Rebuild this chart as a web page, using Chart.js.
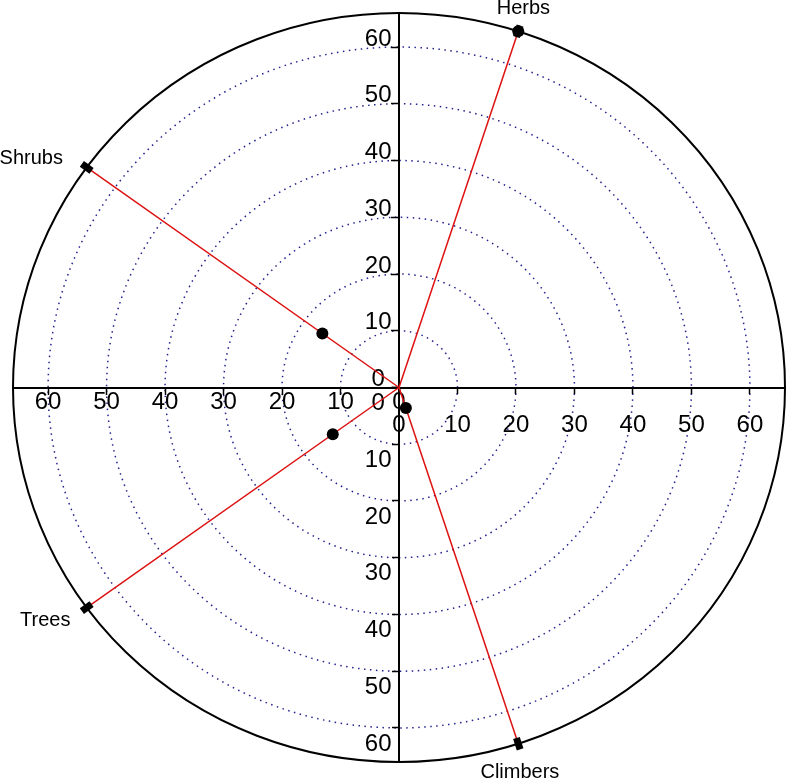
<!DOCTYPE html>
<html>
<head>
<meta charset="utf-8">
<script src="https://cdn.jsdelivr.net/npm/chart.js@4/dist/chart.umd.min.js"></script>
<style>
html,body{margin:0;padding:0;background:#fff;overflow:hidden;}
#c{display:block;}
</style>
</head>
<body>
<canvas id="c" width="787" height="782"></canvas>
<script>
// ---- data ----
const categories = ['Herbs', 'Shrubs', 'Trees', 'Climbers'];
const values = [66, 16.2, 14, 3.8];
const radialMax = 66;
const gridValues = [10, 20, 30, 40, 50, 60];
const tickValues = [0, 10, 20, 30, 40, 50, 60];

// ---- helpers ----
const angleStep = 360 / (categories.length + 1);
const angles = categories.map((_, i) => (i + 1) * angleStep);
const toRad = d => d * Math.PI / 180;
const polar = (r, deg) => ({ x: r * Math.cos(toRad(deg)), y: r * Math.sin(toRad(deg)) });

const FONT = '"Liberation Sans", Arial, Helvetica, sans-serif';
const tickFont = { family: FONT, size: 24 };
const fmtV = v => (v === 0 ? '0 ' : String(Math.abs(v)));
const fmtH = v => String(Math.abs(v));

// label placement style (pixels)
const labelRadius = 70.5;
const labelNudge = [[-3, 1], [-2.5, 6.5], [5, -2.5], [-6.5, 5]];

const spokeSets = categories.map((c, i) => ({
  label: c + ' spoke',
  data: [{ x: 0, y: 0 }, polar(radialMax, angles[i])],
  showLine: true,
  borderColor: '#dd1111',
  borderWidth: 1.5,
  pointRadius: 0,
  clip: false,
  order: 3
}));

const markerSet = {
  label: 'ends',
  data: angles.map(a => polar(radialMax, a)),
  pointStyle: 'line',
  pointRotation: angles.map(a => -a),
  pointRadius: 6,
  pointBorderWidth: 7,
  pointBorderColor: '#000',
  pointBackgroundColor: '#000',
  showLine: false,
  clip: false,
  order: 2
};

const valueSet = {
  label: 'values',
  data: values.map((v, i) => polar(v, angles[i])),
  pointStyle: 'circle',
  pointRadius: 6,
  pointBorderWidth: 0,
  pointBackgroundColor: '#000',
  pointBorderColor: '#000',
  showLine: false,
  clip: false,
  order: 1
};

const zeroPad = s => { s.paddingTop = 0; s.paddingBottom = 0; s.paddingLeft = 0; s.paddingRight = 0; };

function axisCfg(axis, tickList, fmt, extraTicks, border, tickLen) {
  return {
    type: 'linear',
    axis: axis,
    position: 'center',
    min: -radialMax,
    max: radialMax,
    afterBuildTicks: s => { s.ticks = tickList.slice().sort((a, b) => a - b).map(v => ({ value: v })); },
    afterFit: zeroPad,
    ticks: Object.assign({ callback: fmt, font: tickFont, color: '#000', autoSkip: false, maxRotation: 0, minRotation: 0 }, extraTicks),
    grid: { display: true, drawOnChartArea: false, drawTicks: true, tickLength: tickLen, tickColor: '#000', tickWidth: 1.5 },
    border: { display: border, color: '#000', width: 2 }
  };
}

const circlesPlugin = {
  id: 'circles',
  beforeDraw(chart) {
    const { ctx, scales: { x, y } } = chart;
    const cx = x.getPixelForValue(0), cy = y.getPixelForValue(0);
    ctx.save();
    ctx.strokeStyle = '#22228f';
    ctx.lineWidth = 1.5;
    ctx.setLineDash([1.5, 4.5]);
    gridValues.forEach(v => {
      ctx.beginPath();
      ctx.ellipse(cx, cy, x.getPixelForValue(v) - cx, cy - y.getPixelForValue(v), 0, 0, 2 * Math.PI);
      ctx.stroke();
    });
    ctx.setLineDash([]);
    ctx.strokeStyle = '#000';
    ctx.lineWidth = 2;
    ctx.beginPath();
    ctx.ellipse(cx, cy, x.getPixelForValue(radialMax) - cx, cy - y.getPixelForValue(radialMax), 0, 0, 2 * Math.PI);
    ctx.stroke();
    ctx.restore();
  },
  afterDraw(chart) {
    const { ctx, scales: { x, y } } = chart;
    ctx.save();
    ctx.font = '20px ' + FONT;
    ctx.fillStyle = '#000';
    ctx.textBaseline = 'middle';
    categories.forEach((c, i) => {
      const p = polar(labelRadius, angles[i]);
      ctx.textAlign = p.x < -1 ? 'right' : 'center';
      ctx.fillText(c, x.getPixelForValue(p.x) + labelNudge[i][0], y.getPixelForValue(p.y) + labelNudge[i][1]);
    });
    ctx.restore();
  }
};

new Chart(document.getElementById('c'), {
  type: 'scatter',
  data: { datasets: [...spokeSets, markerSet, valueSet] },
  options: {
    responsive: false,
    maintainAspectRatio: false,
    devicePixelRatio: 1,
    animation: false,
    layout: { autoPadding: false, padding: { left: 13, right: 2, top: 13, bottom: 20 } },
    plugins: { legend: { display: false }, tooltip: { enabled: false } },
    scales: {
      x: axisCfg('x', tickValues.map(v => -v), fmtH, { padding: -6 }, true, 6),
      xRight: axisCfg('x', tickValues, fmtH, { padding: 17 }, false, 6),
      y: axisCfg('y', tickValues, fmtV, { padding: 0.5, labelOffset: -8 }, true, 7),
      yDown: axisCfg('y', tickValues.map(v => -v), fmtV, { padding: 0.5, labelOffset: 16 }, false, 7)
    }
  },
  plugins: [circlesPlugin]
});
</script>
</body>
</html>
